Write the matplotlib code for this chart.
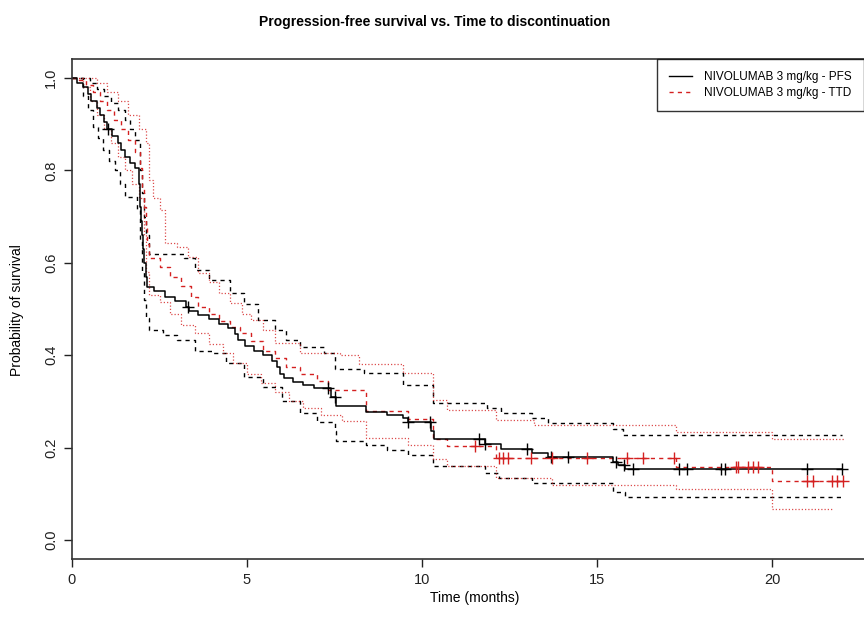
import numpy as np
import matplotlib
matplotlib.use("Agg")
import matplotlib.pyplot as plt
from matplotlib.lines import Line2D

plt.rcParams["font.family"] = ["Liberation Sans", "DejaVu Sans"]

RED = "#d42020"

# PFS (Kaplan-Meier step values after each event)
pfs_t = [0.0, 0.15, 0.3, 0.45, 0.55, 0.7, 0.8, 0.9, 1.0, 1.15, 1.3, 1.4, 1.5, 1.65, 1.8,
         1.92, 1.95, 1.98, 2.0, 2.03, 2.06, 2.1, 2.13, 2.35, 2.65, 2.95, 3.25, 3.35, 3.6,
         3.9, 4.2, 4.45, 4.65, 4.75, 4.95, 5.2, 5.45, 5.7, 5.85, 5.95, 6.05, 6.3, 6.6,
         6.9, 7.4, 7.55, 8.4, 9.0, 9.45, 9.6, 10.25, 10.35, 11.8, 12.25, 13.15, 13.6,
         15.45, 15.6, 15.8, 22.0]
pfs_s = [1.0, 0.99, 0.98, 0.965, 0.95, 0.935, 0.92, 0.905, 0.89, 0.875, 0.86, 0.845, 0.83,
         0.815, 0.805, 0.77, 0.72, 0.69, 0.66, 0.63, 0.60, 0.57, 0.548, 0.54, 0.527, 0.518,
         0.505, 0.495, 0.487, 0.478, 0.468, 0.458, 0.445, 0.432, 0.42, 0.41, 0.40, 0.388,
         0.375, 0.36, 0.35, 0.342, 0.335, 0.328, 0.31, 0.29, 0.277, 0.271, 0.264, 0.255,
         0.236, 0.218, 0.208, 0.197, 0.188, 0.179, 0.169, 0.162, 0.154, 0.154]
pfs_up_t = [0.0, 0.5, 0.7, 0.9, 1.1, 1.3, 1.5, 1.65, 1.8, 1.95, 2.0, 2.05, 2.1, 2.2, 3.2,
            3.5, 3.9, 4.5, 4.9, 5.3, 5.8, 6.1, 6.5, 7.2, 7.5, 8.35, 9.45, 10.3, 11.85,
            12.25, 13.15, 13.6, 15.45, 15.75, 22.0]
pfs_up_s = [1.0, 0.99, 0.975, 0.96, 0.945, 0.93, 0.91, 0.89, 0.866, 0.80, 0.75, 0.70,
            0.66, 0.62, 0.61, 0.585, 0.563, 0.535, 0.51, 0.476, 0.455, 0.433, 0.418, 0.405,
            0.37, 0.361, 0.335, 0.296, 0.286, 0.275, 0.264, 0.253, 0.24, 0.227, 0.227]
pfs_lo_t = [0.0, 0.3, 0.45, 0.6, 0.75, 0.89, 1.05, 1.23, 1.38, 1.51, 1.86, 1.95, 2.0,
            2.05, 2.1, 2.2, 2.6, 3.0, 3.5, 4.0, 4.4, 4.9, 5.45, 6.0, 6.5, 7.0, 7.5, 7.55,
            8.4, 9.0, 9.6, 10.3, 11.8, 12.2, 13.15, 15.45, 15.8, 22.0]
pfs_lo_s = [1.0, 0.96, 0.93, 0.894, 0.87, 0.844, 0.82, 0.80, 0.77, 0.742, 0.714, 0.65,
            0.58, 0.52, 0.48, 0.455, 0.444, 0.433, 0.41, 0.405, 0.383, 0.353, 0.331, 0.30,
            0.275, 0.255, 0.235, 0.215, 0.205, 0.195, 0.185, 0.16, 0.145, 0.135, 0.123,
            0.104, 0.093, 0.093]
pfs_cens = [1.03, 3.3, 7.3, 7.51, 9.6, 10.23, 11.63, 11.8, 13.0, 13.69, 14.17, 15.54,
            15.77, 16.03, 17.34, 17.57, 18.54, 18.66, 21.0, 22.0]

# TTD
ttd_t = [0.0, 0.2, 0.4, 0.6, 0.8, 1.0, 1.2, 1.4, 1.6, 1.8, 1.95, 2.0, 2.05, 2.1, 2.15,
         2.2, 2.5, 2.8, 3.1, 3.4, 3.6, 3.9, 4.2, 4.5, 4.8, 5.1, 5.46, 5.8, 6.1, 6.5, 7.0,
         7.3, 8.4, 9.6, 10.3, 10.7, 12.1, 17.25, 20.0, 22.05]
ttd_s = [1.0, 0.995, 0.985, 0.97, 0.95, 0.93, 0.91, 0.89, 0.865, 0.84, 0.805, 0.76, 0.72,
         0.68, 0.64, 0.61, 0.59, 0.57, 0.55, 0.525, 0.504, 0.49, 0.475, 0.46, 0.448, 0.43,
         0.41, 0.395, 0.375, 0.36, 0.345, 0.325, 0.28, 0.262, 0.218, 0.203, 0.177,
         0.159, 0.127, 0.127]
ttd_up_t = [0.0, 0.7, 1.0, 1.3, 1.6, 1.9, 2.1, 2.2, 2.3, 2.5, 2.65, 3.0, 3.3, 3.6, 3.9,
            4.2, 4.5, 4.85, 5.1, 5.45, 5.8, 6.5, 7.65, 8.2, 9.45, 10.3, 10.7, 12.1, 13.2,
            17.25, 20.0, 22.05]
ttd_up_s = [1.0, 0.99, 0.97, 0.95, 0.92, 0.89, 0.86, 0.78, 0.74, 0.714, 0.643, 0.634,
            0.612, 0.578, 0.558, 0.535, 0.513, 0.49, 0.476, 0.455, 0.426, 0.405, 0.40,
            0.38, 0.361, 0.303, 0.281, 0.26, 0.249, 0.234, 0.219, 0.219]
ttd_lo_t = [0.0, 0.3, 0.5, 0.7, 0.9, 1.1, 1.3, 1.5, 1.7, 1.9, 2.05, 2.1, 2.2, 2.5, 2.8,
            3.1, 3.5, 3.9, 4.3, 4.6, 5.0, 5.4, 5.8, 6.2, 6.6, 7.1, 7.7, 8.4, 9.6, 10.3,
            10.7, 12.1, 13.7, 17.25, 20.0, 21.7]
ttd_lo_s = [1.0, 0.98, 0.95, 0.92, 0.89, 0.86, 0.83, 0.80, 0.77, 0.74, 0.66, 0.58, 0.53,
            0.515, 0.49, 0.465, 0.448, 0.425, 0.405, 0.383, 0.36, 0.34, 0.32, 0.30, 0.285,
            0.27, 0.258, 0.22, 0.205, 0.175, 0.16, 0.135, 0.12, 0.11, 0.068, 0.068]
ttd_cens = [11.5, 12.2, 12.3, 12.45, 13.1, 13.7, 14.7, 15.86, 16.3, 17.2, 18.97, 19.03,
            19.31, 19.46, 19.6, 21.0, 21.17, 21.71, 21.86, 22.03]

fig = plt.figure(figsize=(8.64, 6.27), dpi=100)
ax = fig.add_axes([72 / 864, 68 / 627, 806 / 864, 500 / 627])

dash = (0, (3, 3))
dot = (0, (1, 1.6))
ax.step(pfs_up_t, pfs_up_s, where="post", color="black", lw=1, linestyle=dash)
ax.step(pfs_lo_t, pfs_lo_s, where="post", color="black", lw=1, linestyle=dash)
ax.step(ttd_up_t, ttd_up_s, where="post", color=RED, lw=0.9, linestyle=dot, alpha=0.8)
ax.step(ttd_lo_t, ttd_lo_s, where="post", color=RED, lw=0.9, linestyle=dot, alpha=0.8)
ax.step(ttd_t, ttd_s, where="post", color=RED, lw=1, linestyle=dash)
ax.step(pfs_t, pfs_s, where="post", color="black", lw=1.1)


def surv_at(ts, ss, times):
    idx = np.searchsorted(ts, times, side="right") - 1
    return np.asarray(ss)[idx]


ax.plot(pfs_cens, surv_at(pfs_t, pfs_s, pfs_cens), linestyle="none", marker="+",
        markersize=8, markeredgewidth=1, color="black")
ax.plot(ttd_cens, surv_at(ttd_t, ttd_s, ttd_cens), linestyle="none", marker="+",
        markersize=8, markeredgewidth=1, color=RED)

ax.set_xlim(0, 806 / 35)
ax.set_ylim(-0.041, 1.041)
ax.set_xticks([0, 5, 10, 15, 20])
ax.set_yticks([0.0, 0.2, 0.4, 0.6, 0.8, 1.0])
ax.set_yticklabels(["0.0", "0.2", "0.4", "0.6", "0.8", "1.0"], rotation=90, va="center")
ax.tick_params(direction="out", length=6, width=1, labelsize=10.5, pad=4, colors="#222222")
for sp in ax.spines.values():
    sp.set_color("#333333")
    sp.set_linewidth(1.2)

handles = [Line2D([], [], color="black", lw=1),
           Line2D([], [], color=RED, lw=1, linestyle=dash)]
leg = ax.legend(handles, ["NIVOLUMAB 3 mg/kg - PFS", "NIVOLUMAB 3 mg/kg - TTD"],
                loc="upper left", bbox_to_anchor=((657 - 72) / 806, 1.0), fontsize=8.5,
                frameon=True, fancybox=False, borderpad=1.0, handlelength=2.0,
                handletextpad=1.0, labelspacing=0.35, borderaxespad=0)
leg.get_frame().set_edgecolor("black")
leg.get_frame().set_linewidth(1)

fig.text(435 / 864, 1 - 22 / 627, "Progression-free survival vs. Time to discontinuation",
         ha="center", va="center", fontsize=10, fontweight="bold")
fig.text(475 / 864, 1 - 598 / 627, "Time (months)", ha="center", va="center", fontsize=10)
fig.text(17 / 864, 1 - 310 / 627, "Probability of survival", ha="center", va="center",
         rotation=90, fontsize=10)

fig.savefig("out.png", dpi=100, facecolor="white")
